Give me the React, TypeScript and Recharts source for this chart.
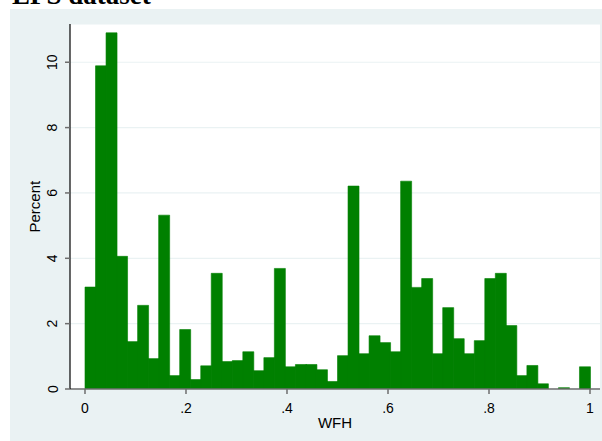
import React from 'react';
import { ComposedChart, Bar, XAxis, YAxis, CartesianGrid } from 'recharts';

const binCenters = [
  0.010417, 0.03125, 0.052083, 0.072917, 0.09375, 0.114583, 0.135417, 0.15625,
  0.177083, 0.197917, 0.21875, 0.239583, 0.260417, 0.28125, 0.302083, 0.322917,
  0.34375, 0.364583, 0.385417, 0.40625, 0.427083, 0.447917, 0.46875, 0.489583,
  0.510417, 0.53125, 0.552083, 0.572917, 0.59375, 0.614583, 0.635417, 0.65625,
  0.677083, 0.697917, 0.71875, 0.739583, 0.760417, 0.78125, 0.802083, 0.822917,
  0.84375, 0.864583, 0.885417, 0.90625, 0.927083, 0.947917, 0.96875, 0.989583,
];

const percentValues = [
  3.12, 9.89, 10.9, 4.06, 1.45, 2.56, 0.93, 5.32,
  0.41, 1.82, 0.29, 0.71, 3.54, 0.84, 0.87, 1.14,
  0.56, 0.96, 3.69, 0.68, 0.75, 0.75, 0.59, 0.23,
  1.02, 6.21, 1.08, 1.63, 1.42, 1.14, 6.36, 3.11,
  3.38, 1.08, 2.49, 1.54, 1.08, 1.48, 3.38, 3.54,
  1.94, 0.41, 0.72, 0.16, 0, 0.04, 0, 0.68,
];

const xTicks = [0, 0.2, 0.4, 0.6, 0.8, 1];
const xTickLabels = ['0', '.2', '.4', '.6', '.8', '1'];
const yTicks = [0, 2, 4, 6, 8, 10];
const yTickLabels = ['0', '2', '4', '6', '8', '10'];

const title = 'EPS dataset';
const xTitle = 'WFH';
const yTitle = 'Percent';

const data = binCenters.map((x, i) => ({ x, pct: percentValues[i] }));

const FONT = '"Liberation Sans", Arial, sans-serif';
const BG = '#EAF2F3';
const GREEN = '#008000';

const XTick = (props: any) => {
  const { x, payload } = props;
  const idx = xTicks.indexOf(payload.value);
  return (
    <text x={x} y={412.5} textAnchor="middle" fontFamily={FONT} fontSize={14} fill="#000">
      {idx >= 0 ? xTickLabels[idx] : payload.value}
    </text>
  );
};

const YTick = (props: any) => {
  const { y, payload } = props;
  const idx = yTicks.indexOf(payload.value);
  const bx = 57.5;
  return (
    <text
      x={bx}
      y={y}
      transform={`rotate(-90, ${bx}, ${y})`}
      textAnchor="middle"
      fontFamily={FONT}
      fontSize={14}
      fill="#000"
    >
      {idx >= 0 ? yTickLabels[idx] : payload.value}
    </text>
  );
};

export default function App() {
  return (
    <div style={{ position: 'absolute', left: 0, top: 0, width: 602, height: 441, background: '#fff', overflow: 'hidden' }}>
      <div style={{ position: 'absolute', left: 10, top: 9, width: 592, height: 432, background: BG }} />
      <svg style={{ position: 'absolute', left: 0, top: 0 }} width={602} height={20}>
        <text x={12} y={3.5} fontFamily='"Liberation Serif", "Times New Roman", serif' fontWeight="bold" fontSize={27} fill="#000">
          {title}
        </text>
      </svg>
      <div style={{ position: 'absolute', left: 0, top: 0 }}>
        <ComposedChart
          width={602}
          height={441}
          data={data}
          margin={{ top: 24, right: 2, bottom: 12, left: 10 }}
          barCategoryGap={0}
          barGap={0}
        >
          <CartesianGrid
            horizontal={true}
            vertical={false}
            stroke={BG}
            strokeWidth={1.2}
            fill="#fff"
            fillOpacity={1}
          />
          <XAxis
            dataKey="x"
            type="number"
            domain={[-0.0297, 1.0198]}
            allowDataOverflow
            ticks={xTicks}
            interval={0}
            height={40}
            axisLine={{ stroke: '#6e6e6e', strokeWidth: 1.5 }}
            tickLine={{ stroke: '#6e6e6e', strokeWidth: 1.5 }}
            tickSize={5}
            tick={<XTick />}
            label={{
              value: xTitle,
              content: () => (
                <text x={335} y={428} textAnchor="middle" fontFamily={FONT} fontSize={15} fill="#000">
                  {xTitle}
                </text>
              ),
            }}
          />
          <YAxis
            type="number"
            domain={[0, 11.17]}
            allowDataOverflow
            ticks={yTicks}
            interval={0}
            width={60}
            axisLine={{ stroke: '#000', strokeWidth: 1.2 }}
            tickLine={{ stroke: '#6e6e6e', strokeWidth: 1.5 }}
            tickSize={5}
            tick={<YTick />}
            label={{
              value: yTitle,
              content: () => (
                <text
                  x={40}
                  y={206.7}
                  transform="rotate(-90, 40, 206.7)"
                  textAnchor="middle"
                  fontFamily={FONT}
                  fontSize={15}
                  fill="#000"
                >
                  {yTitle}
                </text>
              ),
            }}
          />
          <Bar dataKey="pct" fill={GREEN} stroke={GREEN} strokeWidth={0.6} isAnimationActive={false} />
        </ComposedChart>
      </div>
    </div>
  );
}
